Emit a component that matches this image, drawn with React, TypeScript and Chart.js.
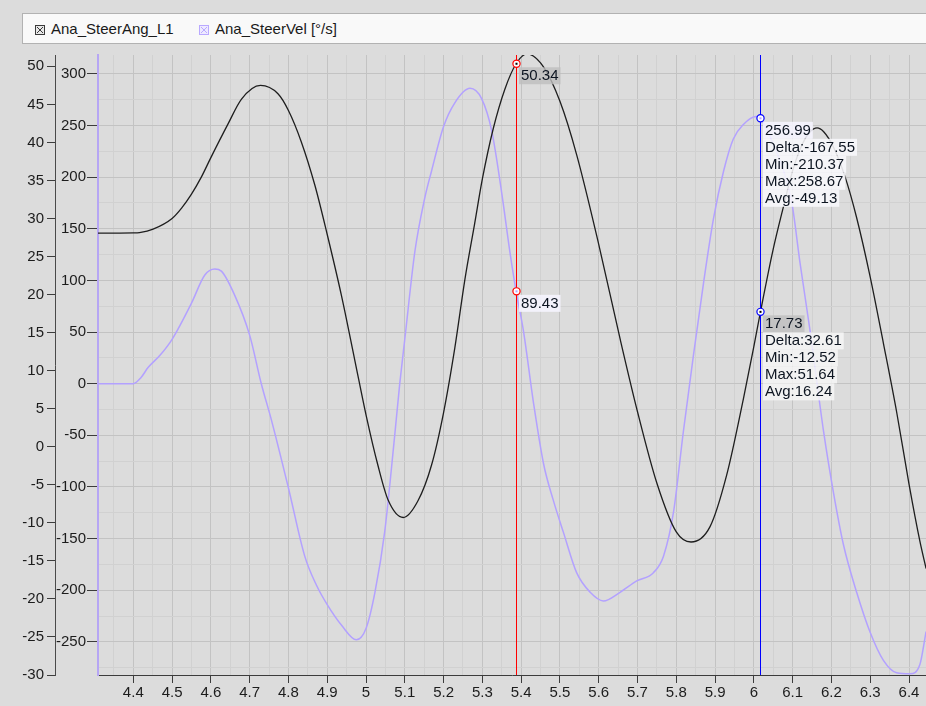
import React, { useEffect, useRef } from 'react';
import { Chart, registerables } from 'chart.js';

Chart.register(...registerables);

const FONT = '"Liberation Sans", Arial, Helvetica, sans-serif';

// ---- Series: Ana_SteerAng_L1 (left outer axis, degrees) ----
const angTime = [4.309, 4.35, 4.40, 4.416, 4.451, 4.50, 4.525, 4.55, 4.575, 4.60, 4.644, 4.679, 4.728, 4.773, 4.80, 4.833, 4.868, 4.90, 4.937, 4.971, 5.00, 5.031, 5.057, 5.096, 5.134, 5.169, 5.20, 5.229, 5.255, 5.28, 5.30, 5.328, 5.358, 5.387, 5.415, 5.458, 5.50, 5.543, 5.60, 5.655, 5.70, 5.75, 5.80, 5.838, 5.887, 5.93, 5.973, 6.00, 6.017, 6.05, 6.076, 6.10, 6.125, 6.145, 6.163, 6.18, 6.205, 6.235, 6.265, 6.30, 6.334, 6.368, 6.40, 6.428, 6.444];
const angValues = [28.08, 28.08, 28.1, 28.15, 28.6, 30.0, 31.4, 33.2, 35.4, 38.0, 42.4, 45.7, 47.5, 46.4, 44.2, 40.1, 34.4, 27.9, 19.8, 11.4, 4.2, -2.5, -7.0, -9.3, -7.1, -2.4, 4.5, 13.0, 22.0, 29.3, 35.2, 41.8, 47.0, 50.34, 51.64, 49.9, 45.4, 38.4, 26.6, 14.2, 4.6, -4.8, -11.2, -12.52, -10.5, -3.7, 6.3, 13.2, 17.73, 26.0, 31.5, 36.3, 39.8, 41.4, 41.9, 41.4, 39.4, 35.5, 30.1, 22.3, 13.6, 4.6, -4.9, -12.4, -16.0];

// ---- Series: Ana_SteerVel [°/s] (left inner axis) ----
const velTime = [4.309, 4.40, 4.42, 4.438, 4.47, 4.50, 4.55, 4.584, 4.61, 4.627, 4.661, 4.70, 4.73, 4.756, 4.80, 4.842, 4.872, 4.90, 4.937, 4.975, 5.00, 5.023, 5.048, 5.074, 5.087, 5.10, 5.126, 5.151, 5.169, 5.20, 5.229, 5.268, 5.298, 5.324, 5.349, 5.372, 5.387, 5.406, 5.432, 5.458, 5.483, 5.509, 5.543, 5.578, 5.612, 5.655, 5.698, 5.741, 5.767, 5.793, 5.818, 5.844, 5.87, 5.896, 5.922, 5.947, 5.973, 6.006, 6.017, 6.05, 6.075, 6.098, 6.119, 6.145, 6.18, 6.205, 6.231, 6.265, 6.30, 6.334, 6.368, 6.403, 6.428, 6.444];
const velValues = [0, 0, 6, 15.6, 28, 43, 78, 105, 111, 109, 86, 47, 0, -35, -101, -167, -195, -214, -234, -248, -237, -202, -144, -50, 0, 43, 128, 179, 206, 249, 272, 286, 276, 245, 187, 125, 89.43, 51, -19, -78, -113, -144, -183, -202, -210.37, -202, -191, -183, -167, -124, -47, 27, 97, 160, 206, 237, 251, 258.67, 256.99, 232, 208, 175, 117, 51, -47, -105, -156, -202, -241, -268, -280, -281, -272, -240];

// ---- Axes ----
const xRange = [4.309, 6.4438];
const xMajorTicks = [4.4, 4.5, 4.6, 4.7, 4.8, 4.9, 5.0, 5.1, 5.2, 5.3, 5.4, 5.5, 5.6, 5.7, 5.8, 5.9, 6.0, 6.1, 6.2, 6.3, 6.4];
const xTickLabels = ['4.4', '4.5', '4.6', '4.7', '4.8', '4.9', '5', '5.1', '5.2', '5.3', '5.4', '5.5', '5.6', '5.7', '5.8', '5.9', '6', '6.1', '6.2', '6.3', '6.4'];
const xMinorTicks = [4.35, 4.45, 4.55, 4.65, 4.75, 4.85, 4.95, 5.05, 5.15, 5.25, 5.35, 5.45, 5.55, 5.65, 5.75, 5.85, 5.95, 6.05, 6.15, 6.25, 6.35];

const angRange = [-30, 51.49];
const angTicks = [-30, -25, -20, -15, -10, -5, 0, 5, 10, 15, 20, 25, 30, 35, 40, 45, 50];

const velRange = [-282.1, 318.3];
const velMajorTicks = [-250, -200, -150, -100, -50, 0, 50, 100, 150, 200, 250, 300];
const velMinorTicks = [-275, -225, -175, -125, -75, -25, 25, 75, 125, 175, 225, 275];

// ---- Cursors ----
const cursorTimes = [5.387, 6.017];
const cursorAngValues = [50.34, 17.73];
const cursorVelValues = [89.43, 256.99];
const angStatLines = ['Delta:32.61', 'Min:-12.52', 'Max:51.64', 'Avg:16.24'];
const velStatLines = ['Delta:-167.55', 'Min:-210.37', 'Max:258.67', 'Avg:-49.13'];

const ANG_COLOR = '#1e1e1e';
const VEL_COLOR = '#b3a1ff';
const CURSOR_COLORS = ['#ff0000', '#0000ff'];
const MAJOR_GRID = '#c3c3c3';
const MINOR_GRID = '#d1d1d1';
const TICK_TEXT = '#1c1c1c';

const near = (a: number, b: number) => Math.abs(a - b) < 1e-6;
const isXMajor = (v: number) => xMajorTicks.some((t) => near(t, v));
const isVelMajor = (v: number) => velMajorTicks.some((t) => near(t, v));

const cursorPlugin = {
  id: 'cursorPlugin',
  afterDatasetsDraw(chart: any) {
    const { ctx, chartArea, scales } = chart;
    const xs = scales.x;
    const ya = scales.yAng;
    const yv = scales.yVel;
    ctx.save();
    cursorTimes.forEach((t, i) => {
      const px = Math.round(xs.getPixelForValue(t)) + 0.5;
      ctx.strokeStyle = CURSOR_COLORS[i];
      ctx.lineWidth = 1;
      ctx.beginPath();
      ctx.moveTo(px, chartArea.top);
      ctx.lineTo(px, chartArea.bottom);
      ctx.stroke();
    });

    const drawMarker = (x: number, y: number, color: string, dot: string) => {
      ctx.beginPath();
      ctx.arc(x, y, 3.6, 0, Math.PI * 2);
      ctx.fillStyle = '#ffffff';
      ctx.fill();
      ctx.lineWidth = 1.2;
      ctx.strokeStyle = color;
      ctx.stroke();
      ctx.fillStyle = dot;
      ctx.fillRect(x - 1, y - 1, 2, 2);
    };

    ctx.font = `15px ${FONT}`;
    ctx.textBaseline = 'middle';
    ctx.textAlign = 'left';
    const drawLabel = (text: string, x: number, y: number, bg: string) => {
      const w = ctx.measureText(text).width;
      ctx.fillStyle = bg;
      ctx.fillRect(x - 2, y - 8.5, w + 4, 17);
      ctx.fillStyle = '#0d1521';
      ctx.fillText(text, x, y + 0.5);
    };

    cursorTimes.forEach((t, i) => {
      const px = Math.round(xs.getPixelForValue(t)) + 0.5;
      const ay = ya.getPixelForValue(cursorAngValues[i]);
      const vy = yv.getPixelForValue(cursorVelValues[i]);
      drawMarker(px, ay, CURSOR_COLORS[i], '#000000');
      drawMarker(px, vy, CURSOR_COLORS[i], VEL_COLOR);
      const tx = px + 4.5;
      drawLabel(cursorAngValues[i].toFixed(2), tx, ay + 12, 'rgba(190,190,190,0.8)');
      if (i === 1) {
        angStatLines.forEach((s, k) => drawLabel(s, tx, ay + 12 + 17 * (k + 1), 'rgba(246,246,246,0.85)'));
      }
      drawLabel(cursorVelValues[i].toFixed(2), tx, vy + 12, 'rgba(246,245,255,0.88)');
      if (i === 1) {
        velStatLines.forEach((s, k) => drawLabel(s, tx, vy + 12 + 17 * (k + 1), 'rgba(248,248,252,0.88)'));
      }
    });
    ctx.restore();
  },
};

function LegendIcon({ stroke, fill }: { stroke: string; fill: string }) {
  return (
    <svg width={10} height={10} viewBox="0 0 10 10" style={{ display: 'block' }}>
      <rect x={0.5} y={0.5} width={9} height={9} fill={fill} stroke={stroke} strokeWidth={1} />
      <line x1={2} y1={2} x2={8} y2={8} stroke={stroke} strokeWidth={1} />
      <line x1={8} y1={2} x2={2} y2={8} stroke={stroke} strokeWidth={1} />
    </svg>
  );
}

export default function App() {
  const ref = useRef<HTMLCanvasElement>(null);

  useEffect(() => {
    if (!ref.current) return;
    const xTicks = [...xMajorTicks, ...xMinorTicks].sort((a, b) => a - b);
    const velTicks = [...velMajorTicks, ...velMinorTicks].sort((a, b) => a - b);

    const chart = new Chart(ref.current, {
      type: 'line',
      data: {
        datasets: [
          {
            label: 'Ana_SteerAng_L1',
            data: angTime.map((t, i) => ({ x: t, y: angValues[i] })),
            yAxisID: 'yAng',
            borderColor: ANG_COLOR,
            borderWidth: 1.3,
            pointRadius: 0,
            cubicInterpolationMode: 'monotone',
            fill: false,
          },
          {
            label: 'Ana_SteerVel [°/s]',
            data: velTime.map((t, i) => ({ x: t, y: velValues[i] })),
            yAxisID: 'yVel',
            borderColor: VEL_COLOR,
            borderWidth: 1.5,
            pointRadius: 0,
            cubicInterpolationMode: 'monotone',
            fill: false,
          },
        ],
      },
      options: {
        animation: false,
        responsive: false,
        maintainAspectRatio: false,
        devicePixelRatio: 1,
        events: [],
        layout: { padding: { top: 55, left: 0, right: 0, bottom: 0 } },
        plugins: {
          legend: { display: false },
          tooltip: { enabled: false },
        },
        scales: {
          x: {
            type: 'linear',
            position: 'bottom',
            min: xRange[0],
            max: xRange[1],
            bounds: 'data',
            afterBuildTicks: (s: any) => {
              s.ticks = xTicks.map((v) => ({ value: v }));
            },
            afterFit: (s: any) => {
              s.height = 31;
            },
            ticks: {
              autoSkip: false,
              maxRotation: 0,
              minRotation: 0,
              padding: 1,
              color: TICK_TEXT,
              font: { family: FONT, size: 15 },
              callback: (v: any) => {
                const idx = xMajorTicks.findIndex((t) => near(t, Number(v)));
                return idx >= 0 ? xTickLabels[idx] : '';
              },
            },
            grid: {
              color: (c: any) => (c.tick && isXMajor(c.tick.value) ? MAJOR_GRID : MINOR_GRID),
              tickColor: (c: any) => (c.tick && isXMajor(c.tick.value) ? '#3c3c3c' : 'rgba(0,0,0,0)'),
              tickLength: 8,
              lineWidth: 1,
            },
            border: { color: '#3c3c3c', width: 1 },
          },
          yVel: {
            type: 'linear',
            position: 'left',
            weight: 0,
            min: velRange[0],
            max: velRange[1],
            bounds: 'data',
            afterBuildTicks: (s: any) => {
              s.ticks = velTicks.map((v) => ({ value: v }));
            },
            afterFit: (s: any) => {
              s.width = 43;
            },
            ticks: {
              autoSkip: false,
              padding: 1,
              color: TICK_TEXT,
              font: { family: FONT, size: 15 },
              callback: (v: any) => (isVelMajor(Number(v)) ? String(v) : ''),
            },
            grid: {
              color: (c: any) => (c.tick && isVelMajor(c.tick.value) ? MAJOR_GRID : MINOR_GRID),
              tickColor: (c: any) => (c.tick && isVelMajor(c.tick.value) ? '#3c3c3c' : 'rgba(0,0,0,0)'),
              tickLength: 11,
              lineWidth: 1,
            },
            border: { color: '#b6a6f4', width: 2 },
          },
          yAng: {
            type: 'linear',
            position: 'left',
            weight: 1,
            min: angRange[0],
            max: angRange[1],
            bounds: 'data',
            afterBuildTicks: (s: any) => {
              s.ticks = angTicks.map((v) => ({ value: v }));
            },
            afterFit: (s: any) => {
              s.width = 55;
            },
            ticks: {
              autoSkip: false,
              padding: 3,
              color: TICK_TEXT,
              font: { family: FONT, size: 15 },
              callback: (v: any) => String(v),
            },
            grid: {
              drawOnChartArea: false,
              tickColor: '#3c3c3c',
              tickLength: 8,
            },
            border: { color: '#4a4a4a', width: 1 },
          },
        },
      } as any,
      plugins: [cursorPlugin],
    } as any);

    return () => chart.destroy();
  }, []);

  return (
    <div
      style={{
        position: 'fixed',
        left: 0,
        top: 0,
        width: 926,
        height: 706,
        background: '#dcdcdc',
        overflow: 'hidden',
        fontFamily: FONT,
      }}
    >
      <canvas ref={ref} width={926} height={706} style={{ position: 'absolute', left: 0, top: 0, width: 926, height: 706 }} />
      <div
        style={{
          position: 'absolute',
          left: 22,
          top: 13,
          width: 960,
          height: 31,
          boxSizing: 'border-box',
          background: '#f9f9f9',
          border: '1px solid #b2b2b2',
        }}
      />
      <div style={{ position: 'absolute', left: 35, top: 25 }}>
        <LegendIcon stroke="#3a3a3a" fill="#e8e8e8" />
      </div>
      <span style={{ position: 'absolute', left: 51, top: 20, fontSize: 15, lineHeight: '17px', color: '#1a1a1a', whiteSpace: 'nowrap' }}>
        Ana_SteerAng_L1
      </span>
      <div style={{ position: 'absolute', left: 199, top: 25 }}>
        <LegendIcon stroke="#b9a9ff" fill="#eeeaff" />
      </div>
      <span style={{ position: 'absolute', left: 215, top: 20, fontSize: 15, lineHeight: '17px', color: '#1a1a1a', whiteSpace: 'nowrap' }}>
        Ana_SteerVel [°/s]
      </span>
    </div>
  );
}
